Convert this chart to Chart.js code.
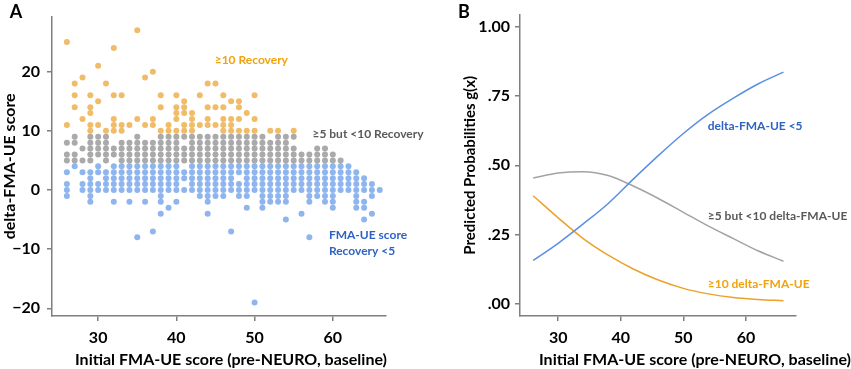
<!DOCTYPE html>
<html>
<head>
<meta charset="utf-8">
<script src="https://cdn.jsdelivr.net/npm/chart.js@4.4.0/dist/chart.umd.min.js"></script>
<style>
  body { margin: 0; background: #fff; }
  #wrap { position: relative; width: 851px; height: 369px; }
  #chartA { position: absolute; left: 0; top: 0; }
  #chartB { position: absolute; left: 440px; top: 0; }
</style>
</head>
<body>
<div id="wrap">
  <canvas id="chartA" width="440" height="369"></canvas>
  <canvas id="chartB" width="411" height="369"></canvas>
</div>
<script>
// Panel A: initial FMA-UE score (x) and the delta scores seen at each score
const fmaScores = [26, 27, 28, 29, 30, 31, 32, 33, 34, 35, 36, 37, 38, 39, 40, 41, 42, 43, 44, 45,
  46, 47, 48, 49, 50, 51, 52, 53, 54, 55, 56, 57, 58, 59, 60, 61, 62, 63, 64, 65, 66];
const deltaByScore = [
  [25, 11, 8, 6, 5, 3, 1, 0, -1],
  [18, 16, 14, 9, 8, 6, 5, 4],
  [19, 12, 7, 5, 3, 1, 0],
  [16, 14, 13, 11, 10, 9, 8, 7, 6, 5, 3, 2, 1, 0, -1, -2],
  [21, 15, 11, 9, 8, 7, 6, 4, 3, 1, 0],
  [18, 10, 9, 8, 7, 6, 5, 3, 2, 1, 0],
  [24, 16, 12, 11, 10, 7, 6, 4, 3, 2, 1, 0, -2],
  [16, 11, 10, 8, 7, 6, 5, 4, 3, 2, 1, 0],
  [11, 8, 7, 6, 5, 4, 3, 2, 1, 0, -2],
  [27, 12, 9, 8, 7, 6, 5, 4, 3, 2, 1, 0, -8],
  [19, 11, 8, 7, 6, 5, 4, 3, 2, 1, 0, -2],
  [20, 12, 11, 8, 7, 6, 5, 4, 3, 2, 1, 0, -7],
  [16, 14, 10, 9, 8, 7, 6, 5, 4, 3, 2, 1, 0, -1, -2, -4],
  [11, 10, 9, 8, 7, 6, 5, 4, 3, 2, 1, 0, -3],
  [16, 14, 13, 12, 10, 9, 8, 7, 6, 5, 4, 3, 2, 1, 0, -2],
  [15, 14, 13, 11, 10, 9, 7, 6, 5, 3, 2, 0],
  [13, 12, 11, 10, 9, 8, 7, 6, 5, 4, 3, 2, 1, 0],
  [16, 11, 9, 8, 7, 6, 5, 4, 3, 2, 1, 0, -1],
  [18, 14, 12, 11, 9, 8, 7, 6, 5, 4, 3, 2, 1, 0, -1, -2, -4],
  [18, 14, 11, 9, 8, 7, 6, 5, 4, 3, 2, 1, 0, -1],
  [16, 14, 12, 11, 10, 9, 8, 7, 6, 5, 4, 3, 2, 1, 0, -1],
  [15, 12, 11, 10, 9, 8, 7, 6, 5, 4, 3, 2, 1, 0, -7],
  [15, 14, 12, 10, 9, 8, 7, 6, 5, 4, 3, 1, 0, -1],
  [13, 10, 9, 8, 7, 6, 5, 4, 3, 2, 1, 0, -1, -3],
  [16, 12, 10, 9, 8, 7, 6, 5, 4, 3, 2, 1, 0, -19],
  [9, 8, 7, 6, 5, 4, 3, 2, 1, 0, -1, -2, -3],
  [10, 8, 7, 6, 5, 4, 3, 2, 1, 0, -1, -2],
  [10, 9, 8, 7, 6, 5, 4, 3, 2, 1, 0, -1, -2],
  [9, 8, 7, 6, 5, 4, 3, 2, 1, 0, -1, -2, -5],
  [10, 9, 7, 6, 5, 4, 3, 2, 1, 0],
  [6, 5, 4, 3, 2, 1, 0, -4],
  [6, 5, 4, 3, 2, 1, 0, -1, -2, -8],
  [7, 6, 5, 4, 3, 2, 1, 0, -1],
  [7, 6, 5, 4, 3, 2, 1, 0, -1, -2],
  [6, 5, 4, 3, 2, 1, 0, -1, -2, -3],
  [5, 4, 3, 2, 1, 0],
  [4, 3, 2, 1, 0],
  [3, 2, 1, 0, -1, -2, -3],
  [2, 1, 0, -2, -3, -5],
  [1, 0, -1, -4],
  [0]
];
const deltaTicks = [-20, -10, 0, 10, 20];
const scoreTicks = [30, 40, 50, 60];

// Panel B: predicted probabilities
const curveScores = [26, 30, 34, 38, 42, 46, 50, 54, 58, 62, 66];
const probUnder5 = [0.156, 0.218, 0.288, 0.362, 0.45, 0.535, 0.615, 0.685, 0.743, 0.795, 0.837];
const prob5to10 = [0.454, 0.472, 0.477, 0.463, 0.425, 0.38, 0.33, 0.28, 0.235, 0.19, 0.153];
const prob10plus = [0.39, 0.31, 0.235, 0.175, 0.125, 0.085, 0.055, 0.035, 0.022, 0.015, 0.01];
const probTicks = [0, 0.25, 0.5, 0.75, 1];

const FONT = 'Lato, "Open Sans", sans-serif';
const AXIS = '#7f7f7f';
const ORANGE = '#f0a30a';
const GRAY = '#595959';
const BLUE = '#2f62c4';

// split points into the three recovery groups
const high = [], mid = [], low = [];
fmaScores.forEach((x, i) => {
  deltaByScore[i].forEach(y => {
    if (y >= 10) high.push({x, y});
    else if (y >= 5) mid.push({x, y});
    else low.push({x, y});
  });
});

function axisX(min, max, height) {
  return {
    type: 'linear', min: min, max: max,
    afterBuildTicks: s => { s.ticks = scoreTicks.map(v => ({value: v})); },
    afterFit: s => { s.height = height; },
    ticks: { color: '#000', font: {family: FONT, size: 16, weight: 'bold'}, padding: 7 },
    grid: { drawOnChartArea: false, tickLength: 5, color: AXIS, lineWidth: 1.5 },
    border: { color: AXIS, width: 1.5 },
    title: { display: false }
  };
}

function textPlugin(id, letter, letterX, xTitleX, notes) {
  return {
    id: id,
    afterDraw(chart) {
      const ctx = chart.ctx;
      const sx = chart.scales.x, sy = chart.scales.y;
      ctx.save();
      ctx.textBaseline = 'middle';
      ctx.fillStyle = '#000';
      ctx.font = 'bold 18px ' + FONT;
      ctx.textAlign = 'center';
      ctx.fillText(letter, letterX, 12);
      ctx.font = 'bold 16px ' + FONT;
      ctx.fillText('Initial FMA-UE score (pre-NEURO, baseline)', xTitleX, 360);
      ctx.textAlign = 'left';
      ctx.font = 'bold 12px ' + FONT;
      notes.forEach(n => {
        ctx.fillStyle = n.color;
        ctx.fillText(n.text, sx.getPixelForValue(n.x), sy.getPixelForValue(n.y));
      });
      ctx.restore();
    }
  };
}

function dots(data, color) {
  return { data: data, backgroundColor: color, borderWidth: 0, pointRadius: 3, pointHoverRadius: 3 };
}

new Chart(document.getElementById('chartA'), {
  type: 'scatter',
  data: {
    datasets: [
      dots(low, 'rgba(75, 135, 228, 0.62)'),
      dots(mid, 'rgba(125, 125, 125, 0.65)'),
      dots(high, 'rgba(234, 160, 40, 0.7)')
    ]
  },
  options: {
    responsive: false,
    animation: false,
    layout: { padding: {left: 0, right: 54, top: 3, bottom: 0} },
    plugins: { legend: {display: false}, tooltip: {enabled: false} },
    scales: {
      x: axisX(24.1, 66.8, 53),
      y: {
        min: -21.3, max: 29.3,
        afterBuildTicks: s => { s.ticks = deltaTicks.map(v => ({value: v})); },
        afterFit: s => { s.width = 52; },
        ticks: {
          color: '#000', font: {family: FONT, size: 16, weight: 'bold'}, padding: 7,
          callback: v => v < 0 ? '\u2212' + Math.abs(v) : String(v)
        },
        grid: { drawOnChartArea: false, tickLength: 5, color: AXIS, lineWidth: 1.5 },
        border: { color: AXIS, width: 1.5 },
        title: {
          display: true, text: 'delta-FMA-UE score', color: '#000',
          font: {family: FONT, size: 16, weight: 'bold'}, padding: {top: 0, bottom: 0}
        }
      }
    }
  },
  plugins: [textPlugin('notesA', 'A', 16, 231, [
    {text: '\u226510 Recovery', x: 44.9, y: 21.9, color: ORANGE},
    {text: '\u22655 but <10 Recovery', x: 57.4, y: 9.4, color: GRAY},
    {text: 'FMA-UE score', x: 59.5, y: -7.7, color: BLUE},
    {text: 'Recovery <5', x: 59.5, y: -10.3, color: BLUE}
  ])]
});

function curve(ys, color) {
  return {
    data: curveScores.map((x, i) => ({x: x, y: ys[i]})),
    showLine: true, borderColor: color, borderWidth: 1.5,
    pointRadius: 0, cubicInterpolationMode: 'monotone', fill: false
  };
}

new Chart(document.getElementById('chartB'), {
  type: 'scatter',
  data: {
    datasets: [
      curve(probUnder5, '#5b8fe3'),
      curve(prob5to10, '#a3a3a3'),
      curve(prob10plus, '#eaa22a')
    ]
  },
  options: {
    responsive: false,
    animation: false,
    layout: { padding: {left: 0, right: 55, top: 3, bottom: 0} },
    plugins: { legend: {display: false}, tooltip: {enabled: false} },
    scales: {
      x: axisX(23.9, 68, 53),
      y: {
        min: -0.045, max: 1.045,
        afterBuildTicks: s => { s.ticks = probTicks.map(v => ({value: v})); },
        afterFit: s => { s.width = 80; },
        ticks: {
          color: '#000', font: {family: FONT, size: 16, weight: 'bold'}, padding: 5,
          callback: v => v === 1 ? '1.00' : v.toFixed(2).replace(/^0/, '')
        },
        grid: { drawOnChartArea: false, tickLength: 5, color: AXIS, lineWidth: 1.5 },
        border: { color: AXIS, width: 1.5 },
        title: {
          display: true, text: 'Predicted Probabilities g(x)', color: '#000',
          font: {family: FONT, size: 15, weight: 'bold'}, padding: {top: 21, bottom: 0}
        }
      }
    }
  },
  plugins: [textPlugin('notesB', 'B', 24, 255, [
    {text: 'delta-FMA-UE <5', x: 53.9, y: 0.641, color: BLUE},
    {text: '\u22655 but <10 delta-FMA-UE', x: 53.9, y: 0.317, color: GRAY},
    {text: '\u226510 delta-FMA-UE', x: 53.9, y: 0.070, color: ORANGE}
  ])]
});
</script>
</body>
</html>
